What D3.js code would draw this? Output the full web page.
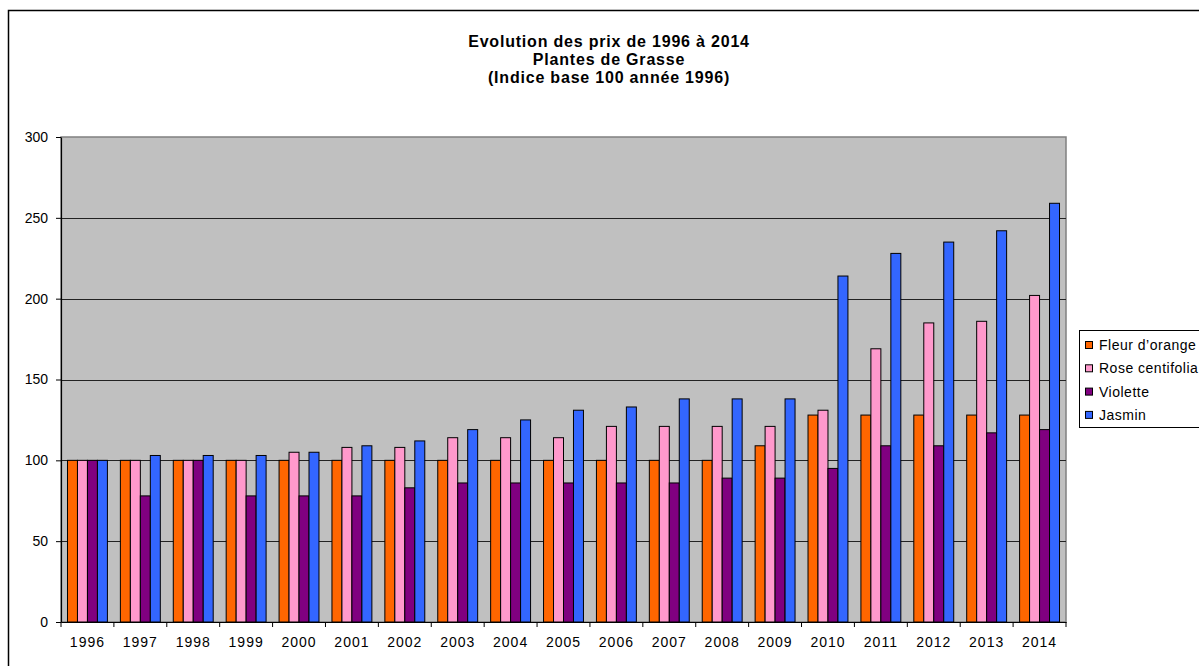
<!DOCTYPE html>
<html>
<head>
<meta charset="utf-8">
<script src="https://cdn.jsdelivr.net/npm/d3@7"></script>
<style>
  body { margin: 0; background: #fff; }
  svg { display: block; font-family: "Liberation Sans", Arial, sans-serif; }
</style>
</head>
<body>
<svg id="chart" width="1199" height="666"></svg>
<script>
// data
const years = ["1996","1997","1998","1999","2000","2001","2002","2003","2004","2005",
               "2006","2007","2008","2009","2010","2011","2012","2013","2014"];
const fleurOrange = [100,100,100,100,100,100,100,100,100,100,100,100,100,109,128,128,128,128,128];
const roseCentifolia = [100,100,100,100,105,108,108,114,114,114,121,121,121,121,131,169,185,186,202];
const violette = [100,78,100,78,78,78,83,86,86,86,86,86,89,89,95,109,109,117,119];
const jasmin = [100,103,103,103,105,109,112,119,125,131,133,138,138,138,214,228,235,242,259];
const seriesNames = ["Fleur d\u2019orange", "Rose centifolia", "Violette", "Jasmin"];
const seriesColors = ["#ff6600", "#ff99cc", "#800080", "#3366ff"];
const yTicks = [0, 50, 100, 150, 200, 250, 300];
const titleLines = ["Evolution des prix de 1996 \u00e0 2014", "Plantes de Grasse", "(Indice base 100 ann\u00e9e 1996)"];

const allSeries = [fleurOrange, roseCentifolia, violette, jasmin];

const svg = d3.select("#chart");
const plot = { left: 61, top: 137, right: 1066, bottom: 622 };

// outer chart border (runs off the right and bottom of the window)
svg.append("rect")
  .attr("x", 8.5).attr("y", 10.5)
  .attr("width", 1250).attr("height", 700)
  .attr("fill", "#fff").attr("stroke", "#000").attr("stroke-width", 1.5);

const x = d3.scaleBand().domain(years).range([plot.left, plot.right]).paddingInner(0).paddingOuter(0);
const xs = d3.scaleBand().domain(d3.range(4)).range([0, x.bandwidth()]).paddingInner(0).paddingOuter(0.65);
const y = d3.scaleLinear().domain([0, 300]).range([plot.bottom, plot.top]);

// plot area
svg.append("rect")
  .attr("x", plot.left).attr("y", plot.top)
  .attr("width", plot.right - plot.left).attr("height", plot.bottom - plot.top)
  .attr("fill", "#c0c0c0").attr("stroke", "#808080").attr("stroke-width", 1.5);

// grid lines
svg.append("g")
  .selectAll("line")
  .data(yTicks.filter(t => t > 0 && t < 300))
  .join("line")
  .attr("x1", plot.left).attr("x2", plot.right)
  .attr("y1", d => Math.round(y(d)) + 0.5).attr("y2", d => Math.round(y(d)) + 0.5)
  .attr("stroke", "#222").attr("stroke-width", 1);

// bars
const groups = svg.append("g")
  .selectAll("g")
  .data(years)
  .join("g")
  .attr("transform", d => `translate(${x(d)},0)`);

groups.selectAll("rect")
  .data((d, i) => allSeries.map((s, k) => ({ k: k, v: s[i] })))
  .join("rect")
  .attr("x", d => xs(d.k))
  .attr("width", xs.bandwidth())
  .attr("y", d => y(d.v))
  .attr("height", d => y(0) - y(d.v))
  .attr("fill", d => seriesColors[d.k])
  .attr("stroke", "#000").attr("stroke-width", 1);

// axes
const yAxis = svg.append("g")
  .attr("transform", `translate(${plot.left},0)`)
  .call(d3.axisLeft(y).tickValues(yTicks).tickSize(5).tickPadding(8).tickSizeOuter(0));
const xAxis = svg.append("g")
  .attr("transform", `translate(0,${plot.bottom})`)
  .call(d3.axisBottom(x).tickSize(0).tickPadding(15).tickSizeOuter(0));

// x tick marks between categories
xAxis.append("g")
  .selectAll("line")
  .data(d3.range(years.length + 1))
  .join("line")
  .attr("x1", i => plot.left + i * x.step()).attr("x2", i => plot.left + i * x.step())
  .attr("y1", 0).attr("y2", 5)
  .attr("stroke", "#000");

[xAxis, yAxis].forEach(a => {
  a.select(".domain").attr("stroke", "#000").attr("stroke-width", 1.2);
  a.selectAll("text").attr("font-size", 14).attr("fill", "#000")
    .attr("font-family", "'Liberation Sans', Arial, sans-serif");
  a.selectAll(".tick line").attr("stroke", "#000");
});
xAxis.selectAll("text").attr("letter-spacing", 1);

// title
svg.append("g")
  .selectAll("text")
  .data(titleLines)
  .join("text")
  .attr("x", 609).attr("y", (d, i) => 47 + i * 18)
  .attr("text-anchor", "middle")
  .attr("font-size", 16).attr("font-weight", "bold")
  .attr("letter-spacing", 0.8)
  .text(d => d);

// legend
const legend = svg.append("g");
legend.append("rect")
  .attr("x", 1079.5).attr("y", 330.5).attr("width", 140).attr("height", 97)
  .attr("fill", "#fff").attr("stroke", "#000");
const li = legend.selectAll("g")
  .data(seriesNames)
  .join("g")
  .attr("transform", (d, i) => `translate(1085,${345 + i * 23.3})`);
li.append("rect")
  .attr("x", 0.5).attr("y", -3.5).attr("width", 7).attr("height", 7)
  .attr("fill", (d, i) => seriesColors[i]).attr("stroke", "#000");
li.append("text")
  .attr("x", 14).attr("y", 5)
  .attr("font-size", 14).attr("letter-spacing", 0.5)
  .text(d => d);
</script>
</body>
</html>
